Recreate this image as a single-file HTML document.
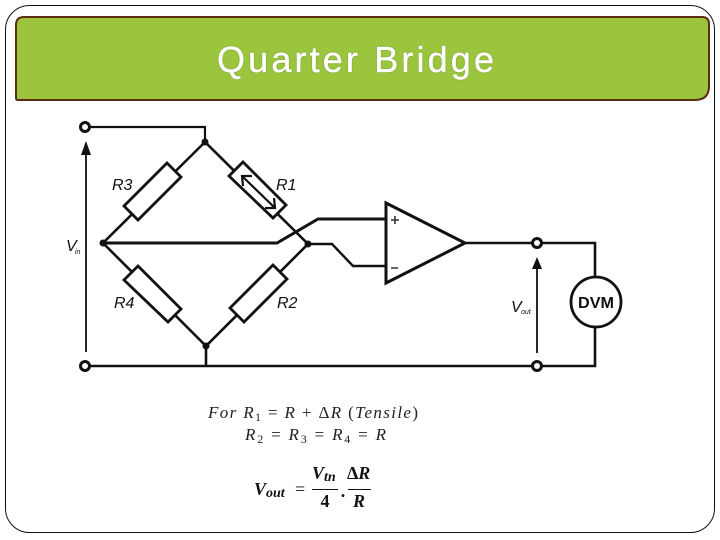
<!DOCTYPE html>
<html><head><meta charset="utf-8"><style>
html,body{margin:0;padding:0;background:#fff}
svg{display:block}
.s{font-family:"Liberation Sans",sans-serif;font-style:italic;fill:#111}
.m{font-family:"Liberation Serif",serif;font-style:italic;fill:#222;font-size:17px}
.b{font-family:"Liberation Serif",serif;font-style:italic;font-weight:bold;fill:#111}
.n{font-style:normal}
</style></head><body>
<svg width="720" height="540" viewBox="0 0 720 540" xmlns="http://www.w3.org/2000/svg">
<rect width="720" height="540" fill="#fff"/>
<rect x="5.500" y="5.500" width="709" height="527" rx="24" ry="24" fill="#fff" stroke="#111" stroke-width="1"/>
<path d="M24 17H702Q709 17 709 24V86Q709 100 695 100H18Q16 100 16 98V25Q16 17 24 17Z" fill="#9bc53d" stroke="#5a2d0c" stroke-width="2"/>
<text x="217" y="72" font-family="Liberation Sans, sans-serif" font-size="36" fill="#fff" stroke="#fff" stroke-width="0.5" style="filter:drop-shadow(0 0 0.6px #55801f)" textLength="277" lengthAdjust="spacing">Quarter Bridge</text>

<g style="filter:blur(0.35px)">
<g fill="none" stroke="#111" stroke-width="2.600">
<path d="M90 127H205V142" stroke-width="2.200"/>
<path d="M205 142L103 243L206 346L308 244Z"/>
<path d="M90 366H532M542 366H595V243H542"/>
<path d="M206 346V366"/>
<path d="M103 243H277L318 219H386" stroke-width="3"/>
<path d="M308 244H332L353 266H386" stroke-width="2.400"/>
<path d="M465 243H532"/>
</g>
<g fill="#fff" stroke="#111" stroke-width="2.800">
<polygon points="167,163 181,177 138,220 124,206"/>
<polygon points="243,162 286,205 273,218 229,176"/>
<polygon points="138,266 181,309 168,322 124,280"/>
<polygon points="273,265 287,279 244,322 230,308"/>
<polygon points="386,203 465,243 386,283" stroke-width="3"/>
<circle cx="596" cy="302" r="25"/>
<circle cx="85" cy="127" r="4.500" stroke-width="3"/>
<circle cx="85" cy="366" r="4.500" stroke-width="3"/>
<circle cx="537" cy="243" r="4.500" stroke-width="3"/>
<circle cx="537" cy="366" r="4.500" stroke-width="3"/>
</g>
<g fill="#111">
<circle cx="205" cy="142" r="3.500"/>
<circle cx="103" cy="243" r="3.500"/>
<circle cx="308" cy="244" r="3.500"/>
<circle cx="206" cy="346" r="3.500"/>
<polygon points="86,141 81,155 91,155"/>
<polygon points="537,257 532,269 542,269"/>
</g>
<path d="M86 150V352M537 265V353" stroke="#111" stroke-width="1.800" fill="none"/>
<g fill="none" stroke="#111" stroke-width="2.200">
<path d="M243 177L274 207"/>
<path d="M252 176L242 176L243 186M265 208L275 208L274 198"/>
</g>
<path d="M391 220h8M395 216v8M391 268h7" stroke="#333" stroke-width="1.600" fill="none"/>

<text class="s" x="112" y="190" font-size="16">R3</text>
<text class="s" x="276" y="190" font-size="16">R1</text>
<text class="s" x="114" y="308" font-size="16">R4</text>
<text class="s" x="277" y="308" font-size="16">R2</text>
<text class="s" x="66" y="251" font-size="16">V</text>
<text class="s" x="75" y="254" font-size="7" font-style="normal">in</text>
<text class="s" x="511" y="312" font-size="16">V</text>
<text class="s" x="521" y="314" font-size="7" font-style="normal">out</text>
<text x="596" y="308" text-anchor="middle" font-family="Liberation Sans, sans-serif" font-weight="bold" font-size="16" fill="#111" textLength="36" lengthAdjust="spacingAndGlyphs">DVM</text>
</g>

<text class="m" x="208" y="418" textLength="210" lengthAdjust="spacing">For R<tspan font-size="12" dy="3" class="n">1</tspan><tspan dy="-3" class="n"> = </tspan>R<tspan class="n"> + Δ</tspan>R<tspan class="n"> (</tspan>Tensile<tspan class="n">)</tspan></text>
<text class="m" x="245" y="440" textLength="141" lengthAdjust="spacing">R<tspan font-size="12" dy="3" class="n">2</tspan><tspan dy="-3" class="n"> = </tspan>R<tspan font-size="12" dy="3" class="n">3</tspan><tspan dy="-3" class="n"> = </tspan>R<tspan font-size="12" dy="3" class="n">4</tspan><tspan dy="-3" class="n"> = </tspan>R</text>
<text class="b" x="254" y="495" font-size="18">V<tspan font-size="14" dy="2">out</tspan></text>
<text x="295" y="495" font-family="Liberation Serif, serif" font-size="18" fill="#111">=</text>
<text class="b" x="312" y="479" font-size="18">V<tspan font-size="14" dy="2">tn</tspan></text>
<text class="b n" x="325" y="507" font-size="18" text-anchor="middle">4</text>
<path d="M312 489.500H338M348 489.500H371" stroke="#111" stroke-width="1" fill="none"/>
<text x="343" y="497" font-family="Liberation Serif, serif" font-size="18" font-weight="bold" text-anchor="middle" fill="#111">.</text>
<text class="b" x="347" y="479" font-size="18"><tspan class="n">Δ</tspan>R</text>
<text class="b" x="359" y="507" font-size="18" text-anchor="middle">R</text>
</svg>
</body></html>
